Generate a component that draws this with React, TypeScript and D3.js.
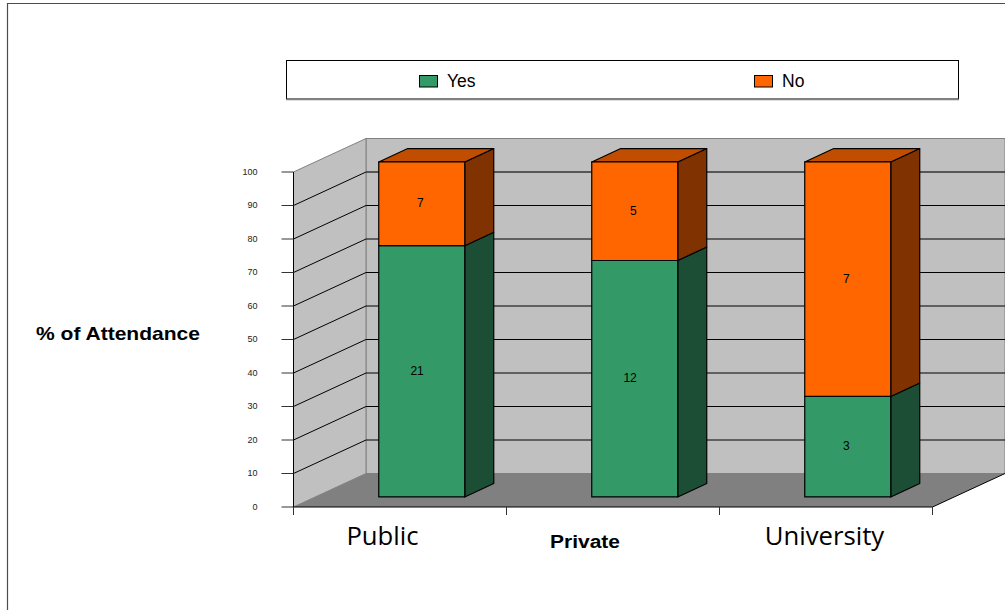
import React from "react";
import * as d3 from "d3";

const categories = ["Public", "Private", "University"];
const seriesNames = ["Yes", "No"];
const yesCounts = [21, 12, 3];
const noCounts = [7, 5, 7];
const percentTicks = [0, 10, 20, 30, 40, 50, 60, 70, 80, 90, 100];

const colors: Record<string, { front: string; side: string; top: string }> = {
  Yes: { front: "#339966", side: "#1C4E36", top: "#26734D" },
  No: { front: "#FF6600", side: "#803300", top: "#C04D00" },
};

const WIDTH = 1005;
const HEIGHT = 610;
const SANS = "'Liberation Sans', Arial, sans-serif";

// Front plane of the 3D box
const x = d3.scaleBand<string>().domain(categories).range([293.5, 932.5]).paddingInner(0).paddingOuter(0);
const y = d3.scaleLinear().domain([0, 100]).range([507, 172]);
// Oblique projection: depth 0 is the front plane, depth 1 the back wall
const depthX = d3.scaleLinear().domain([0, 1]).range([0, 72.5]);
const depthY = d3.scaleLinear().domain([0, 1]).range([0, -33.5]);

const BAR_WIDTH = 86;
const BAR_DEPTH_START = 0.3;
const BAR_DEPTH_END = 0.7;

const project = (px: number, py: number, d: number): [number, number] => [px + depthX(d), py + depthY(d)];
const poly = (pts: [number, number][]) => pts.map((p) => p.join(",")).join(" ");

const rows = categories.map((c, i) => ({ category: c, Yes: yesCounts[i], No: noCounts[i] }));
const stacked = d3.stack<any>().keys(seriesNames).offset(d3.stackOffsetExpand)(rows);

export default function App() {
  const left = x.range()[0];
  const right = x.range()[1];
  const y0 = y(0);
  const y100 = y(100);

  const bars = categories.flatMap((c, ci) =>
    stacked.map((s) => {
      const x0 = (x(c) as number) + (x.bandwidth() - BAR_WIDTH) / 2 + depthX(BAR_DEPTH_START);
      const x1 = x0 + BAR_WIDTH;
      const lo = y(s[ci][0] * 100) + depthY(BAR_DEPTH_START);
      const hi = y(s[ci][1] * 100) + depthY(BAR_DEPTH_START);
      const dd = BAR_DEPTH_END - BAR_DEPTH_START;
      const count = s.key === "Yes" ? yesCounts[ci] : noCounts[ci];
      return { key: `${c}-${s.key}`, name: s.key, x0, x1, lo, hi, dd, count, isTop: s.key === "No" };
    })
  );

  return (
    <svg
      width={WIDTH}
      height={HEIGHT}
      viewBox={`0 0 ${WIDTH} ${HEIGHT}`}
      style={{ position: "absolute", left: 0, top: 0, background: "#fff" }}
    >
      {/* Outer frame, open on the right and bottom */}
      <path d={`M7.5,${HEIGHT} V3.5 H${WIDTH}`} fill="none" stroke="#4d4d4d" strokeWidth={1.2} />

      {/* Legend with its soft lower edge */}
      <rect x={286.5} y={60.5} width={672} height={38.5} fill="#fff" stroke="#000" strokeWidth={1} />
      <line x1={286} x2={959} y1={99.5} y2={99.5} stroke="#808080" strokeWidth={1.4} />
      {seriesNames.map((name, i) => {
        const sx = i === 0 ? 419.5 : 754.5;
        return (
          <g key={name}>
            <rect x={sx} y={75.5} width={18} height={11.5} fill={colors[name].front} stroke="#000" />
            <text x={sx + 27.5} y={87} fontFamily={SANS} fontSize={17.5} fill="#000">
              {name}
            </text>
          </g>
        );
      })}

      {/* Walls and floor */}
      <polygon
        points={poly([project(left, y100, 1), project(right, y100, 1), project(right, y0, 1), project(left, y0, 1)])}
        fill="#C0C0C0"
        stroke="#808080"
      />
      <polygon
        points={poly([project(left, y100, 0), project(left, y100, 1), project(left, y0, 1), project(left, y0, 0)])}
        fill="#C0C0C0"
        stroke="#808080"
      />
      <polygon
        points={poly([project(left, y0, 0), project(left, y0, 1), project(right, y0, 1), project(right, y0, 0)])}
        fill="#808080"
      />
      <line x1={right} y1={y0} x2={project(right, y0, 1)[0]} y2={project(right, y0, 1)[1]} stroke="#000" />

      {/* Gridlines run along the left wall, then across the back wall */}
      {percentTicks.filter((t) => t > 0 && t < 100).map((t) => (
        <polyline
          key={t}
          points={poly([project(left, y(t), 0), project(left, y(t), 1), project(right, y(t), 1)])}
          fill="none"
          stroke="#000"
          strokeWidth={1}
        />
      ))}
      <line
        x1={project(left, y100, 1)[0]}
        y1={y100 + depthY(1)}
        x2={project(right, y100, 1)[0]}
        y2={y100 + depthY(1)}
        stroke="#808080"
      />
      <line
        x1={project(left, y(100), 1)[0]}
        y1={y(100)}
        x2={project(right, y(100), 1)[0]}
        y2={y(100)}
        stroke="#4d4d4d"
      />

      {/* Percent axis */}
      <line x1={left} y1={y100} x2={left} y2={y0} stroke="#000" />
      {percentTicks.map((t) => (
        <g key={t}>
          <line x1={left - 12} x2={left} y1={y(t)} y2={y(t)} stroke="#333" />
          <text x={left - 36} y={y(t) + 2.5} textAnchor="end" fontFamily={SANS} fontSize={9} fill="#222">
            {t}
          </text>
        </g>
      ))}

      {/* Category axis */}
      <line x1={left} x2={right} y1={y0} y2={y0} stroke="#000" />
      {[...categories.map((c) => x(c) as number), right].map((tx) => (
        <line key={tx} x1={tx} x2={tx} y1={y0} y2={y0 + 8} stroke="#333" />
      ))}

      {/* Stacked bars */}
      {bars.map((b) => (
        <g key={b.key} stroke="#000" strokeWidth={1.2} strokeLinejoin="round">
          <polygon
            points={poly([
              [b.x1, b.lo],
              [b.x1 + depthX(b.dd), b.lo + depthY(b.dd)],
              [b.x1 + depthX(b.dd), b.hi + depthY(b.dd)],
              [b.x1, b.hi],
            ])}
            fill={colors[b.name].side}
          />
          {b.isTop && (
            <polygon
              points={poly([
                [b.x0, b.hi],
                [b.x0 + depthX(b.dd), b.hi + depthY(b.dd)],
                [b.x1 + depthX(b.dd), b.hi + depthY(b.dd)],
                [b.x1, b.hi],
              ])}
              fill={colors[b.name].top}
            />
          )}
          <rect x={b.x0} y={b.hi} width={BAR_WIDTH} height={b.lo - b.hi} fill={colors[b.name].front} />
          <text
            x={(b.x0 + b.x1) / 2 + 2}
            y={(b.lo + b.hi) / 2 + 3.5}
            textAnchor="end"
            fontFamily={SANS}
            fontSize={12}
            fill="#000"
            stroke="none"
          >
            {b.count}
          </text>
        </g>
      ))}

      {/* Category labels */}
      <text x={382.5} y={545} textAnchor="middle" fontFamily="'Open Sans', sans-serif" fontSize={25.7} fill="#000">
        {categories[0]}
      </text>
      <text x={585} y={548} textAnchor="middle" fontFamily={SANS} fontWeight="bold" fontSize={18} textLength={70} lengthAdjust="spacingAndGlyphs" fill="#000">
        {categories[1]}
      </text>
      <text x={824.5} y={545} textAnchor="middle" fontFamily="'Open Sans', sans-serif" fontSize={25.7} fill="#000">
        {categories[2]}
      </text>

      {/* Value axis title */}
      <text x={118} y={340} textAnchor="middle" fontFamily={SANS} fontWeight="bold" fontSize={19} textLength={164} lengthAdjust="spacingAndGlyphs" fill="#000">
        % of Attendance
      </text>
    </svg>
  );
}
